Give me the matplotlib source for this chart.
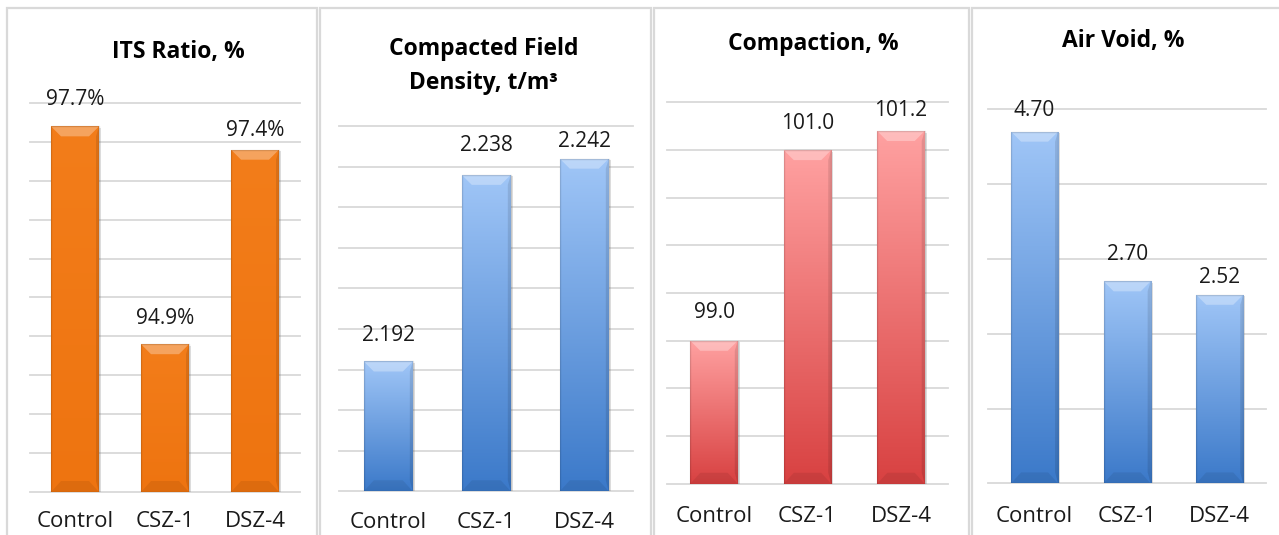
import numpy as np
import matplotlib
matplotlib.use("Agg")
import matplotlib.pyplot as plt
from matplotlib.patches import Rectangle, Polygon
from matplotlib.colors import LinearSegmentedColormap

plt.rcParams['font.family'] = ['Open Sans', 'DejaVu Sans']

# ---- data -------------------------------------------------------------
categories = ["Control", "CSZ-1", "DSZ-4"]

its_ratio = [97.7, 94.9, 97.4]
field_density = [2.192, 2.238, 2.242]
compaction = [99.0, 101.0, 101.2]
air_void = [4.70, 2.70, 2.52]

titles = ["ITS Ratio, %", "Compacted Field\nDensity, t/m\u00b3",
          "Compaction, %", "Air Void, %"]
label_formats = ["{:.1f}%", "{:.3f}", "{:.1f}", "{:.2f}"]
y_limits = [(93.0, 98.0), (2.16, 2.25), (97.5, 101.5), (0.0, 5.0)]
y_steps = [0.5, 0.01, 0.5, 1.0]

# ---- layout (pixels on a 1279 x 535 canvas) ---------------------------
W, H = 1279, 535
# plot box: left, right, top gridline, baseline
boxes = [(30.0, 300.0, 103.0, 492.0),
         (339.3, 633.3, 126.2, 491.3),
         (667.3, 947.7, 102.4, 483.8),
         (988.3, 1266.0, 109.2, 483.4)]
frames = [(7, 316.5), (319.5, 650.5), (654, 968.5), (972, 1290)]
title_pos = [(178.5, 52.0), (483.3, 65.7), (813.8, 44.4), (1123.3, 40.9)]
cat_label_y = [522, 523, 517, 517]
bar_widths = [0.533, 0.50, 0.508, 0.508]
label_offsets = [[27, 26, 19], [26, 29, 17], [28, 27, 21], [21, 27, 17]]

# colour ramps for each panel's bars (top colour, bottom colour)
ramps = [("#F37D1A", "#EE7410"),
         ("#A0C6F7", "#3B79C9"),
         ("#FFA1A1", "#D84141"),
         ("#A0C6F7", "#3B79C9")]

GRID = "#D9D9D9"
TEXT = "#1A1A1A"

fig = plt.figure(figsize=(W / 100, H / 100), dpi=100)
fig.patch.set_facecolor("white")


def fx(px):
    return px / W


def fy(py):
    return 1 - py / H


# panel frames
for x0, x1 in frames:
    fig.add_artist(Rectangle((fx(x0), fy(560)), fx(x1) - fx(x0), fy(8) - fy(560),
                             transform=fig.transFigure, fill=False,
                             edgecolor=GRID, linewidth=1.6))

series = [its_ratio, field_density, compaction, air_void]

for k, values in enumerate(series):
    l, r, t, b = boxes[k]
    lo, hi = y_limits[k]
    ax = fig.add_axes([fx(l), fy(b), fx(r) - fx(l), fy(t) - fy(b)])
    ax.set_facecolor("none")
    for s in ax.spines.values():
        s.set_visible(False)
    ax.set_xticks([])
    ax.set_yticks([])

    # horizontal gridlines, including the baseline
    n = int(round((hi - lo) / y_steps[k]))
    for g in np.linspace(lo, hi, n + 1):
        ax.axhline(g, color=GRID, linewidth=1.3, zorder=0.5, clip_on=False)

    x = np.arange(len(categories))
    bars = ax.bar(x, values, width=bar_widths[k], color=ramps[k][1],
                  zorder=2, linewidth=0)

    ppx = (r - l) / 3.0             # pixels per x unit
    ppy = (b - t) / (hi - lo)       # pixels per y unit
    cmap = LinearSegmentedColormap.from_list("ramp", [ramps[k][1], ramps[k][0]])
    grad = np.linspace(0, 1, 256).reshape(-1, 1)

    for i, bar in enumerate(bars):
        x0 = bar.get_x()
        x1 = x0 + bar.get_width()
        v = bar.get_height()
        vb = max(lo, 0.0)
        # soft shadow
        sdx, sdy = 2.0 / ppx, 1.5 / ppy
        ax.add_patch(Rectangle((x0 + sdx, vb), x1 - x0, v - vb - sdy,
                               facecolor="#8C8C8C", alpha=0.25, zorder=1.5,
                               linewidth=0))
        im = ax.imshow(grad, cmap=cmap, extent=[x0, x1, vb, v], origin="lower",
                       aspect="auto", zorder=2.1, interpolation="bilinear")
        im.set_clip_path(bar)

        bx, by = 10.0 / ppx, 10.0 / ppy
        byb = 11.0 / ppy
        top = Polygon([(x0, v), (x1, v), (x1 - bx, v - by), (x0 + bx, v - by)],
                      closed=True, facecolor="white", alpha=0.30, zorder=2.3,
                      linewidth=0)
        right = Polygon([(x1, v), (x1 - 3.0 / ppx, v - by), (x1 - 3.0 / ppx, vb + byb), (x1, vb)],
                        closed=True, facecolor="black", alpha=0.10, zorder=2.3,
                        linewidth=0)
        bottom = Polygon([(x0, vb), (x1, vb), (x1 - bx, vb + byb), (x0 + bx, vb + byb)],
                         closed=True, facecolor="black", alpha=0.07, zorder=2.3,
                         linewidth=0)
        for p in (top, right, bottom):
            ax.add_patch(p)
        # thin darker outline
        ax.add_patch(Rectangle((x0, vb), x1 - x0, v - vb, fill=False,
                               edgecolor="black", alpha=0.12, linewidth=1.0,
                               zorder=2.4))

        ax.annotate(label_formats[k].format(v), (x[i], v),
                    xytext=(0, label_offsets[k][i] * 0.72),
                    textcoords="offset points", ha="center", va="center",
                    fontsize=15, color=TEXT, annotation_clip=False)

    for i, cat in enumerate(categories):
        ax.annotate(cat, (x[i], lo), xytext=(0, -(cat_label_y[k] - b) * 0.72),
                    textcoords="offset points", ha="center", va="center",
                    fontsize=16, color=TEXT, annotation_clip=False)

    ax.set_xlim(-0.5, 2.5)
    ax.set_ylim(lo, hi)

    tx, ty = title_pos[k]
    fig.text(fx(tx), fy(ty), titles[k], ha="center", va="center",
             fontsize=16.5, fontweight="bold", color="black", linespacing=1.55)

fig.savefig("out.png", dpi=100, facecolor="white")
